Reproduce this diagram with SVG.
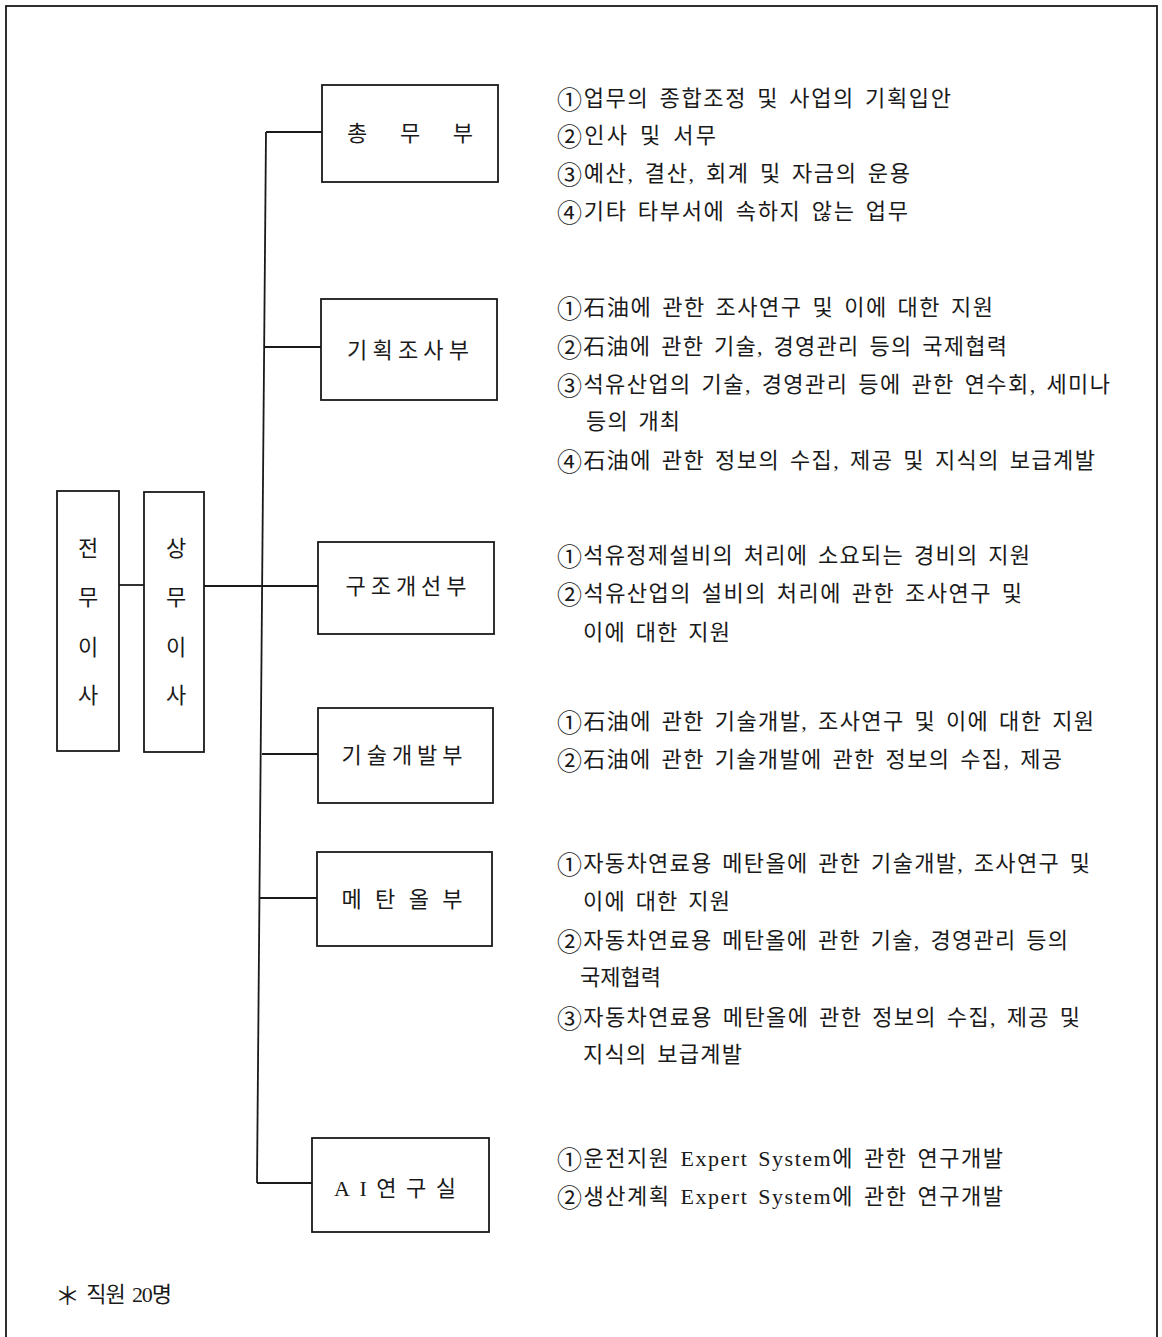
<svg xmlns="http://www.w3.org/2000/svg" width="1162" height="1337" viewBox="0 0 1162 1337">
<style>
.bx{fill:#fff;stroke:#1a1a1a;stroke-width:1.8}
.ln{fill:none;stroke:#1a1a1a;stroke-width:1.8}
text{font-family:"Liberation Serif","Noto Sans CJK KR",serif;fill:#1a1a1a;dominant-baseline:central}
.lb{font-size:22px;text-anchor:middle}
.it{font-size:22px;word-spacing:3px}
.cn{font-family:"Noto Sans CJK KR",sans-serif;font-size:25px}
</style>
<rect width="1162" height="1337" fill="#fff"/>
<rect x="6" y="6" width="1151" height="1345" fill="none" stroke="#1a1a1a" stroke-width="1.8"/>

<g id="connectors">
<path class="ln" d="M266,132 L257,1183"/>
<path class="ln" d="M266,132 H322"/>
<path class="ln" d="M265,347 H321"/>
<path class="ln" d="M204,586 H318"/>
<path class="ln" d="M119,585 H144"/>
<path class="ln" d="M262,754 H318"/>
<path class="ln" d="M260,898 H317"/>
<path class="ln" d="M257,1183 H312"/>
</g>

<g id="n-jeonmu">
<rect class="bx" x="57" y="491" width="62" height="260"/>
<text class="lb" x="88" y="548">전</text>
<text class="lb" x="88" y="597">무</text>
<text class="lb" x="88" y="647">이</text>
<text class="lb" x="88" y="695">사</text>
</g>
<g id="n-sangmu">
<rect class="bx" x="144" y="492" width="60" height="260"/>
<text class="lb" x="176" y="548">상</text>
<text class="lb" x="176" y="597">무</text>
<text class="lb" x="176" y="647">이</text>
<text class="lb" x="176" y="695">사</text>
</g>

<g id="n-chongmu">
<rect class="bx" x="322" y="85" width="176" height="97"/>
<text class="lb" x="410" y="133" textLength="126" lengthAdjust="spacing">총 무 부</text>
</g>
<g id="n-gihoek">
<rect class="bx" x="321" y="299" width="176" height="101"/>
<text class="lb" x="408" y="350" textLength="122" lengthAdjust="spacing">기획조사부</text>
</g>
<g id="n-gujo">
<rect class="bx" x="318" y="542" width="176" height="92"/>
<text class="lb" x="406" y="586" textLength="121" lengthAdjust="spacing">구조개선부</text>
</g>
<g id="n-gisul">
<rect class="bx" x="318" y="708" width="175" height="95"/>
<text class="lb" x="402" y="755" textLength="121" lengthAdjust="spacing">기술개발부</text>
</g>
<g id="n-methanol">
<rect class="bx" x="317" y="852" width="175" height="94"/>
<text class="lb" x="402" y="899" textLength="121" lengthAdjust="spacing">메 탄 올 부</text>
</g>
<g id="n-ai">
<rect class="bx" x="312" y="1138" width="177" height="94"/>
<text class="lb" x="395" y="1188" textLength="122" lengthAdjust="spacing">AI연구실</text>
</g>

<g id="desc-chongmu">
<text class="it" x="557" y="98" textLength="394" lengthAdjust="spacing"><tspan class="cn">①</tspan>업무의 종합조정 및 사업의 기획입안</text>
<text class="it" x="557" y="135" textLength="159" lengthAdjust="spacing"><tspan class="cn">②</tspan>인사 및 서무</text>
<text class="it" x="557" y="173" textLength="353" lengthAdjust="spacing"><tspan class="cn">③</tspan>예산, 결산, 회계 및 자금의 운용</text>
<text class="it" x="557" y="211" textLength="351" lengthAdjust="spacing"><tspan class="cn">④</tspan>기타 타부서에 속하지 않는 업무</text>
</g>
<g id="desc-gihoek">
<text class="it" x="557" y="307" textLength="436" lengthAdjust="spacing"><tspan class="cn">①</tspan>石油에 관한 조사연구 및 이에 대한 지원</text>
<text class="it" x="557" y="346" textLength="450" lengthAdjust="spacing"><tspan class="cn">②</tspan>石油에 관한 기술, 경영관리 등의 국제협력</text>
<text class="it" x="557" y="384" textLength="553" lengthAdjust="spacing"><tspan class="cn">③</tspan>석유산업의 기술, 경영관리 등에 관한 연수회, 세미나</text>
<text class="it" x="586" y="421" textLength="94" lengthAdjust="spacing">등의 개최</text>
<text class="it" x="557" y="460" textLength="538" lengthAdjust="spacing"><tspan class="cn">④</tspan>石油에 관한 정보의 수집, 제공 및 지식의 보급계발</text>
</g>
<g id="desc-gujo">
<text class="it" x="557" y="555" textLength="473" lengthAdjust="spacing"><tspan class="cn">①</tspan>석유정제설비의 처리에 소요되는 경비의 지원</text>
<text class="it" x="557" y="593" textLength="465" lengthAdjust="spacing"><tspan class="cn">②</tspan>석유산업의 설비의 처리에 관한 조사연구 및</text>
<text class="it" x="583" y="632" textLength="147" lengthAdjust="spacing">이에 대한 지원</text>
</g>
<g id="desc-gisul">
<text class="it" x="557" y="721" textLength="537" lengthAdjust="spacing"><tspan class="cn">①</tspan>石油에 관한 기술개발, 조사연구 및 이에 대한 지원</text>
<text class="it" x="557" y="759" textLength="505" lengthAdjust="spacing"><tspan class="cn">②</tspan>石油에 관한 기술개발에 관한 정보의 수집, 제공</text>
</g>
<g id="desc-methanol">
<text class="it" x="557" y="863" textLength="533" lengthAdjust="spacing"><tspan class="cn">①</tspan>자동차연료용 메탄올에 관한 기술개발, 조사연구 및</text>
<text class="it" x="583" y="901" textLength="147" lengthAdjust="spacing">이에 대한 지원</text>
<text class="it" x="557" y="940" textLength="511" lengthAdjust="spacing"><tspan class="cn">②</tspan>자동차연료용 메탄올에 관한 기술, 경영관리 등의</text>
<text class="it" x="580" y="977" textLength="81" lengthAdjust="spacing">국제협력</text>
<text class="it" x="557" y="1017" textLength="523" lengthAdjust="spacing"><tspan class="cn">③</tspan>자동차연료용 메탄올에 관한 정보의 수집, 제공 및</text>
<text class="it" x="583" y="1054" textLength="159" lengthAdjust="spacing">지식의 보급계발</text>
</g>
<g id="desc-ai">
<text class="it" x="557" y="1158" textLength="446" lengthAdjust="spacing"><tspan class="cn">①</tspan>운전지원 Expert System에 관한 연구개발</text>
<text class="it" x="557" y="1196" textLength="446" lengthAdjust="spacing"><tspan class="cn">②</tspan>생산계획 Expert System에 관한 연구개발</text>
</g>

<text class="it" x="55" y="1294" textLength="117" lengthAdjust="spacing"><tspan class="cn">＊</tspan> 직원 20명</text>
</svg>
